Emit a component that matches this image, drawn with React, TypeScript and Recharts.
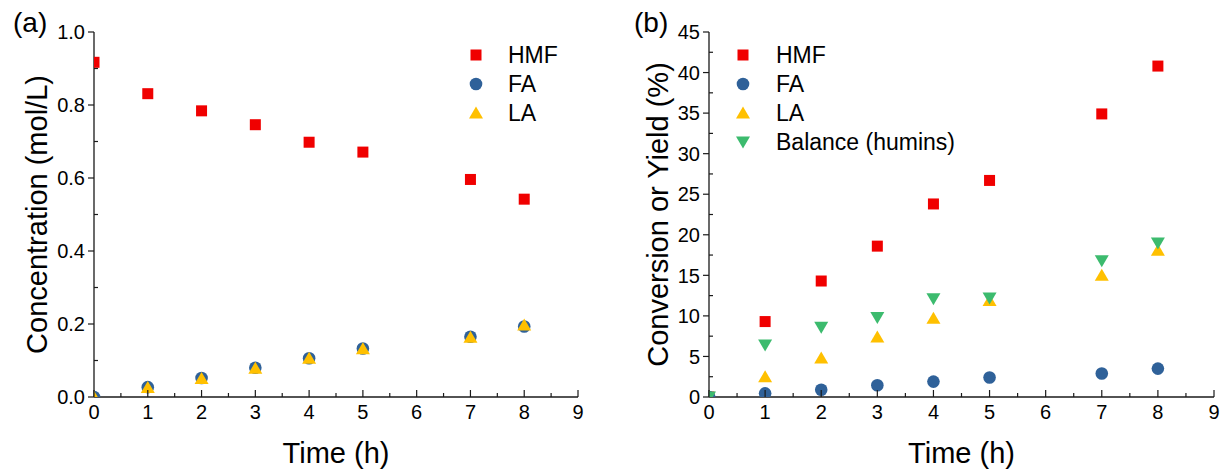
import React from "react";
import { ScatterChart, Scatter, XAxis, YAxis, Label } from "recharts";

const times = [0, 1, 2, 3, 4, 5, 7, 8];

// (a) concentration, mol/L
const concHMF = [0.917, 0.831, 0.784, 0.746, 0.698, 0.671, 0.596, 0.542];
const concFA = [0, 0.027, 0.052, 0.08, 0.106, 0.133, 0.165, 0.193];
const concLA = [0, 0.026, 0.051, 0.079, 0.106, 0.132, 0.164, 0.197];

// (b) conversion or yield, %
const convHMF = [0, 9.3, 14.3, 18.6, 23.8, 26.7, 34.9, 40.8];
const yieldFA = [0, 0.45, 0.9, 1.45, 1.9, 2.4, 2.9, 3.5];
const yieldLA = [0, 2.5, 4.8, 7.4, 9.7, 11.9, 15.0, 18.1];
const balance = [0, 6.4, 8.6, 9.8, 12.1, 12.2, 16.8, 19.0];

const xTicks = [0, 0.5, 1, 1.5, 2, 2.5, 3, 3.5, 4, 4.5, 5, 5.5, 6, 6.5, 7, 7.5, 8, 8.5, 9];
const yTicksA = [0, 0.1, 0.2, 0.3, 0.4, 0.5, 0.6, 0.7, 0.8, 0.9, 1.0];
const yTicksB = [0, 2.5, 5, 7.5, 10, 12.5, 15, 17.5, 20, 22.5, 25, 27.5, 30, 32.5, 35, 37.5, 40, 42.5, 45];

const RED = "#f00000";
const BLUE = "#2f6199";
const YELLOW = "#ffc000";
const GREEN = "#3cbb6e";
const AXIS = "#1a1a1a";
const FONT = "'Liberation Sans', Arial, sans-serif";

type Kind = "square" | "circle" | "up" | "down";

function Marker({ kind, cx, cy, color }: { kind: Kind; cx: number; cy: number; color: string }) {
  if (kind === "square") return <rect x={cx - 5.5} y={cy - 5.5} width={11} height={11} fill={color} />;
  if (kind === "circle") return <circle cx={cx} cy={cy} r={6.3} fill={color} />;
  if (kind === "up")
    return <polygon points={`${cx},${cy - 6.5} ${cx + 7},${cy + 5.5} ${cx - 7},${cy + 5.5}`} fill={color} />;
  return <polygon points={`${cx},${cy + 6.5} ${cx + 7},${cy - 5.5} ${cx - 7},${cy - 5.5}`} fill={color} />;
}

const seriesA = [
  { name: "HMF", values: concHMF, kind: "square" as Kind, color: RED },
  { name: "FA", values: concFA, kind: "circle" as Kind, color: BLUE },
  { name: "LA", values: concLA, kind: "up" as Kind, color: YELLOW },
];

const seriesB = [
  { name: "HMF", values: convHMF, kind: "square" as Kind, color: RED },
  { name: "FA", values: yieldFA, kind: "circle" as Kind, color: BLUE },
  { name: "LA", values: yieldLA, kind: "up" as Kind, color: YELLOW },
  { name: "Balance (humins)", values: balance, kind: "down" as Kind, color: GREEN },
];

function XTick(props: any) {
  const { x, y, payload } = props;
  const v = payload.value;
  const major = Number.isInteger(v);
  return (
    <g>
      <line x1={x} x2={x} y1={y} y2={y - (major ? 7 : 4)} stroke={AXIS} strokeWidth={1.2} />
      {major && (
        <text x={x} y={y + 22} textAnchor="middle" fontSize={20} fill="#000" fontFamily={FONT}>
          {v}
        </text>
      )}
    </g>
  );
}

function makeYTick(isMajor: (v: number) => boolean, fmt: (v: number) => string) {
  return (props: any) => {
    const { x, y, payload } = props;
    const v = payload.value;
    const major = isMajor(v);
    return (
      <g>
        <line x1={major ? x - 6 : x} x2={major ? x : x + 4} y1={y} y2={y} stroke={AXIS} strokeWidth={1.2} />
        {major && (
          <text x={x - 9} y={y} dy="0.36em" textAnchor="end" fontSize={20} fill="#000" fontFamily={FONT}>
            {fmt(v)}
          </text>
        )}
      </g>
    );
  };
}

const yTickA = makeYTick((v) => Math.round(v * 10) % 2 === 0, (v) => v.toFixed(1));
const yTickB = makeYTick((v) => v % 5 === 0, (v) => String(v));

function Legend({ items, left, top, textX, rowGap }: any) {
  return (
    <svg style={{ position: "absolute", left, top }} width={260} height={rowGap * items.length + 20}>
      {items.map((s: any, i: number) => {
        const cy = 12 + i * rowGap;
        return (
          <g key={s.name}>
            <Marker kind={s.kind} cx={12} cy={cy} color={s.color} />
            <text x={textX} y={cy} dy="0.36em" fontSize={23} fill="#000" fontFamily={FONT}>
              {s.name}
            </text>
          </g>
        );
      })}
    </svg>
  );
}

function Panel({ series, yTicks, yDomain, yTick, yTitle, yTitleX, width, yWidth, right }: any) {
  return (
    <ScatterChart width={width} height={469} margin={{ top: 32, right, bottom: 0, left: 0 }}>
      <XAxis
        dataKey="t"
        type="number"
        domain={[0, 9]}
        ticks={xTicks}
        interval={0}
        allowDataOverflow
        height={72}
        tickSize={0}
        tickMargin={0}
        tickLine={false}
        axisLine={{ stroke: AXIS, strokeWidth: 1.3 }}
        tick={XTick}
      >
        <Label
          content={(p: any) => {
            const vb = p.viewBox;
            return (
              <text x={vb.x + vb.width / 2} y={vb.y + 66} textAnchor="middle" fontSize={29} fill="#000" fontFamily={FONT}>
                Time (h)
              </text>
            );
          }}
        />
      </XAxis>
      <YAxis
        dataKey="v"
        type="number"
        domain={yDomain}
        ticks={yTicks}
        interval={0}
        allowDataOverflow
        width={yWidth}
        tickSize={0}
        tickMargin={0}
        tickLine={false}
        axisLine={{ stroke: AXIS, strokeWidth: 1.3 }}
        tick={yTick}
      >
        <Label
          content={(p: any) => {
            const vb = p.viewBox;
            const cx = vb.x + yTitleX;
            const cy = vb.y + vb.height / 2;
            return (
              <text
                x={cx}
                y={cy}
                transform={`rotate(-90 ${cx} ${cy})`}
                textAnchor="middle"
                fontSize={29}
                fill="#000"
                fontFamily={FONT}
              >
                {yTitle}
              </text>
            );
          }}
        />
      </YAxis>
      <XAxis
        xAxisId="top"
        orientation="top"
        type="number"
        domain={[0, 9]}
        height={0}
        tick={false}
        tickLine={false}
        axisLine={{ stroke: AXIS, strokeWidth: 1.3 }}
      />
      <YAxis
        yAxisId="right"
        orientation="right"
        type="number"
        domain={yDomain}
        width={0}
        tick={false}
        tickLine={false}
        axisLine={{ stroke: AXIS, strokeWidth: 1.3 }}
      />
      {series.map((s: any) => (
        <Scatter
          key={s.name}
          name={s.name}
          data={times.map((t, i) => ({ t, v: s.values[i] }))}
          fill={s.color}
          isAnimationActive={false}
          shape={(p: any) => <Marker kind={s.kind} cx={p.cx} cy={p.cy} color={s.color} />}
        />
      ))}
    </ScatterChart>
  );
}

export default function App() {
  return (
    <div style={{ position: "absolute", left: 0, top: 0, width: 1223, height: 469, background: "#fff", fontFamily: FONT }}>
      <div style={{ position: "absolute", left: 0, top: 0 }}>
        <Panel
          series={seriesA}
          yTicks={yTicksA}
          yDomain={[0, 1]}
          yTick={yTickA}
          yTitle="Concentration (mol/L)"
          yTitleX={47}
          width={620}
          yWidth={94}
          right={42}
        />
      </div>
      <div style={{ position: "absolute", left: 620, top: 0 }}>
        <Panel
          series={seriesB}
          yTicks={yTicksB}
          yDomain={[0, 45]}
          yTick={yTickB}
          yTitle="Conversion or Yield (%)"
          yTitleX={48}
          width={603}
          yWidth={89}
          right={9}
        />
      </div>
      <div style={{ position: "absolute", left: 13, top: 6, fontSize: 28, lineHeight: "34px" }}>(a)</div>
      <div style={{ position: "absolute", left: 634, top: 6, fontSize: 28, lineHeight: "34px" }}>(b)</div>
      <Legend items={seriesA} left={464} top={43} textX={44} rowGap={29} />
      <Legend items={seriesB} left={731} top={43} textX={45} rowGap={29} />
    </div>
  );
}
